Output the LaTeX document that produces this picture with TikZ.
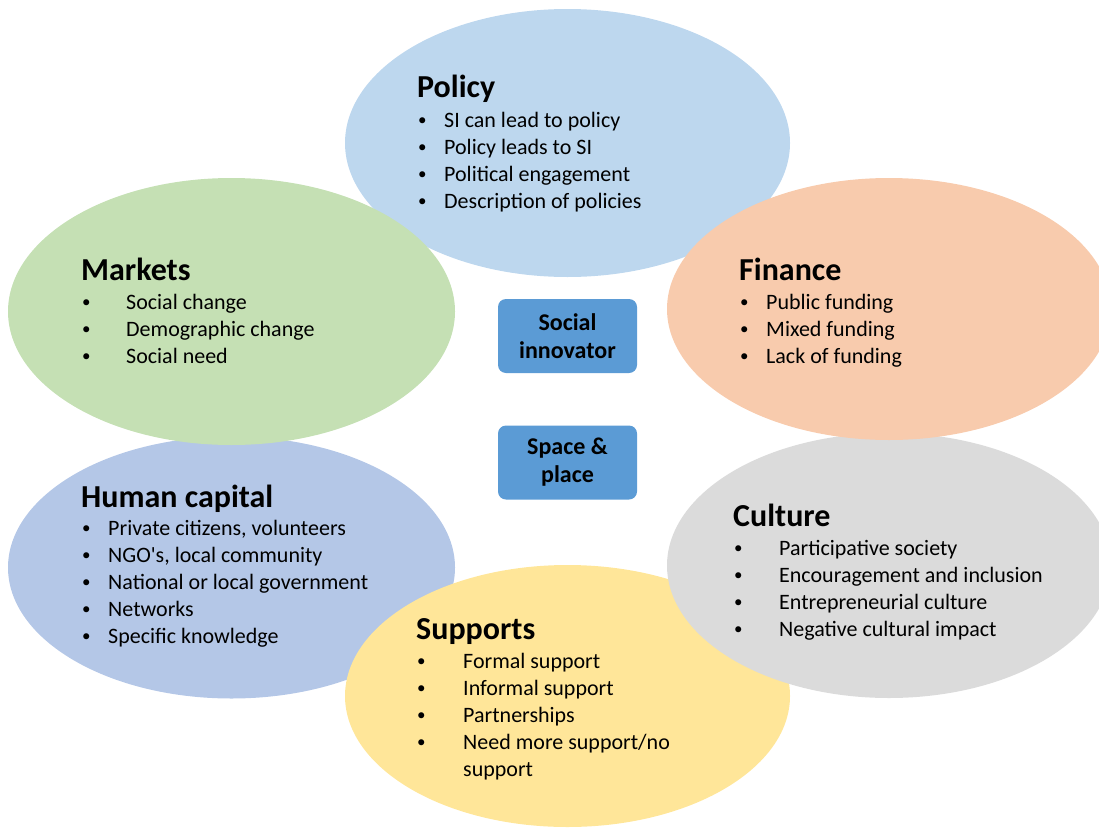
\documentclass[tikz,border=0pt]{standalone}
\usepackage{fontspec}
\setmainfont{Carlito}
\usepackage{tikz}
\usetikzlibrary{shapes}
\definecolor{policyfill}{HTML}{BDD7EE}
\definecolor{marketfill}{HTML}{C5E0B4}
\definecolor{financefill}{HTML}{F8CBAD}
\definecolor{humanfill}{HTML}{B4C7E7}
\definecolor{culturefill}{HTML}{DBDBDB}
\definecolor{supportfill}{HTML}{FFE699}
\definecolor{actorfill}{HTML}{5B9BD5}
\newcommand{\bul}[1]{\makebox[#1][l]{\raisebox{1.5pt}{\fontsize{17}{17}\selectfont\textbullet}}}

\begin{document}
\begin{tikzpicture}[x=1pt,y=1pt]
    \tikzstyle{every node}+=[inner sep=0pt]
    \tikzstyle{head}=[anchor=base west, font=\fontsize{32}{36}\selectfont\bfseries]
    \tikzstyle{entry}=[anchor=base west, font=\fontsize{22}{27}\selectfont]
    \tikzstyle{actor}=[fill=actorfill, rounded corners=8pt, minimum width=139pt, minimum height=74pt, align=center, font=\fontsize{24}{28}\selectfont\bfseries]
    \useasboundingbox (0,0) rectangle (1099,-827);
    \clip (0,0) rectangle (1099,-827);
    \fill [policyfill] (567.5,-143) ellipse (222.5 and 134);
    \fill [humanfill] (231.5,-567.5) ellipse (223.5 and 131);
    \fill [supportfill] (567.5,-696) ellipse (222.5 and 131);
    \fill [culturefill] (889,-565.5) ellipse (222 and 132.5);
    \fill [financefill] (889,-309) ellipse (222 and 131);
    \fill [marketfill] (231.5,-311.5) ellipse (223.5 and 133.5);
    \node [head] (policy) at (417,-97) {Policy};
    \node [entry] (pol1) at (418,-127) {\bul{26pt}SI can lead to policy};
    \node [entry] (pol2) at (418,-154) {\bul{26pt}Policy leads to SI};
    \node [entry] (pol3) at (418,-181) {\bul{26pt}Political engagement};
    \node [entry] (pol4) at (418,-208) {\bul{26pt}Description of policies};
    \node [head] (markets) at (81,-280) {Markets};
    \node [entry] (mar1) at (82,-309) {\bul{44pt}Social change};
    \node [entry] (mar2) at (82,-336) {\bul{44pt}Demographic change};
    \node [entry] (mar3) at (82,-363) {\bul{44pt}Social need};
    \node [head] (finance) at (739,-280) {Finance};
    \node [entry] (fin1) at (740,-309) {\bul{26pt}Public funding};
    \node [entry] (fin2) at (740,-336) {\bul{26pt}Mixed funding};
    \node [entry] (fin3) at (740,-363) {\bul{26pt}Lack of funding};
    \node [head] (human) at (81,-507) {Human capital};
    \node [entry] (hum1) at (82,-535) {\bul{26pt}Private citizens, volunteers};
    \node [entry] (hum2) at (82,-562) {\bul{26pt}NGO\textquotesingle s, local community};
    \node [entry] (hum3) at (82,-589) {\bul{26pt}National or local government};
    \node [entry] (hum4) at (82,-616) {\bul{26pt}Networks};
    \node [entry] (hum5) at (82,-643) {\bul{26pt}Specific knowledge};
    \node [head] (culture) at (733,-526) {Culture};
    \node [entry] (cul1) at (734,-555) {\bul{45pt}Participative society};
    \node [entry] (cul2) at (734,-582) {\bul{45pt}Encouragement and inclusion};
    \node [entry] (cul3) at (734,-609) {\bul{45pt}Entrepreneurial culture};
    \node [entry] (cul4) at (734,-636) {\bul{45pt}Negative cultural impact};
    \node [head] (supports) at (416,-639) {Supports};
    \node [entry] (sup1) at (417,-668) {\bul{46pt}Formal support};
    \node [entry] (sup2) at (417,-695) {\bul{46pt}Informal support};
    \node [entry] (sup3) at (417,-722) {\bul{46pt}Partnerships};
    \node [entry] (sup4) at (417,-749) {\bul{46pt}Need more support/no};
    \node [entry] (sup5) at (463,-776) {support};
    \node [actor] (innovator) at (567.5,-336) {Social\\innovator};
    \node [actor] (space) at (567.5,-462.5) {Space \&\\place};
\end{tikzpicture}
\end{document}
